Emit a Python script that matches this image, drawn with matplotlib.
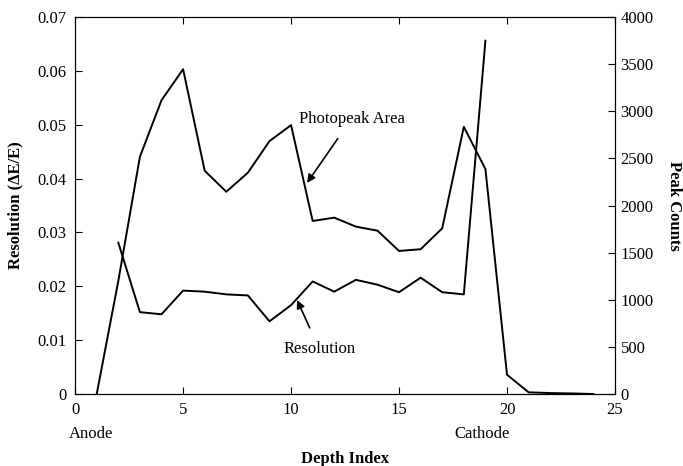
import numpy as np
import matplotlib
matplotlib.use('Agg')
import matplotlib.pyplot as plt

plt.rcParams['font.family'] = ['Liberation Serif', 'DejaVu Serif']

# resolution (left axis)
res_depth = [2, 3, 4, 5, 6, 7, 8, 9, 10, 11, 12, 13, 14, 15, 16, 17, 18, 19]
resolution = [0.0281, 0.0152, 0.0148, 0.0192, 0.0190, 0.0185, 0.0183, 0.0135, 0.0165,
              0.0209, 0.0190, 0.0212, 0.0203, 0.0189, 0.0216, 0.0189, 0.0185, 0.0656]

# photopeak area (right axis)
peak_depth = [1, 2, 3, 4, 5, 6, 7, 8, 9, 10, 11, 12, 13, 14, 15, 16, 17, 18, 19, 20, 21, 22, 23, 24]
peak_counts = [0, 1200, 2517, 3117, 3446, 2369, 2146, 2348, 2683, 2853, 1836, 1871, 1776, 1733,
               1518, 1536, 1758, 2835, 2387, 205, 18, 10, 6, 0]

fig = plt.figure(figsize=(6.83, 4.66), dpi=100)
ax = fig.add_axes([0.11, 0.1545, 0.7904, 0.809])
ax2 = ax.twinx()

ax.plot(res_depth, resolution, color='black', lw=1.4)
ax2.plot(peak_depth, peak_counts, color='black', lw=1.4)

ax.set_xlim(0, 25)
ax.set_ylim(0, 0.07)
ax2.set_ylim(0, 4000)
ax.set_xticks([0, 5, 10, 15, 20, 25])
ax.set_yticks(np.arange(0, 0.0701, 0.01))
ax.set_yticklabels(['0', '0.01', '0.02', '0.03', '0.04', '0.05', '0.06', '0.07'])
ax2.set_yticks(range(0, 4001, 500))

ax.tick_params(direction='in', top=True, labelsize=12, length=5, pad=6)
ax2.tick_params(direction='in', labelsize=12, length=5, pad=4)

ax.set_ylabel('Resolution (\u0394E/E)', fontsize=12, fontweight='bold', labelpad=10)
ax2.set_ylabel('Peak Counts', fontsize=12, fontweight='bold', rotation=270, labelpad=20)

fig.text(345/683, 1 - 459/466, 'Depth Index', fontsize=12, fontweight='bold',
         ha='center', va='center')
fig.text(69/683, 1 - 434/466, 'Anode', fontsize=12, ha='left', va='center')
fig.text(454/683, 1 - 434/466, 'Cathode', fontsize=12, ha='left', va='center')

ax.annotate('Photopeak Area', xy=(10.74, 0.0392), xytext=(12.8, 0.0511),
            fontsize=12, ha='center', va='center',
            arrowprops=dict(arrowstyle='-|>', color='black', lw=1.2, shrinkA=8, shrinkB=0,
                            mutation_scale=12))
ax.annotate('Resolution', xy=(10.28, 0.01745), xytext=(11.3, 0.0084),
            fontsize=12, ha='center', va='center',
            arrowprops=dict(arrowstyle='-|>', color='black', lw=1.2, shrinkA=8, shrinkB=0,
                            mutation_scale=12))

fig.savefig('out.png', dpi=100)
